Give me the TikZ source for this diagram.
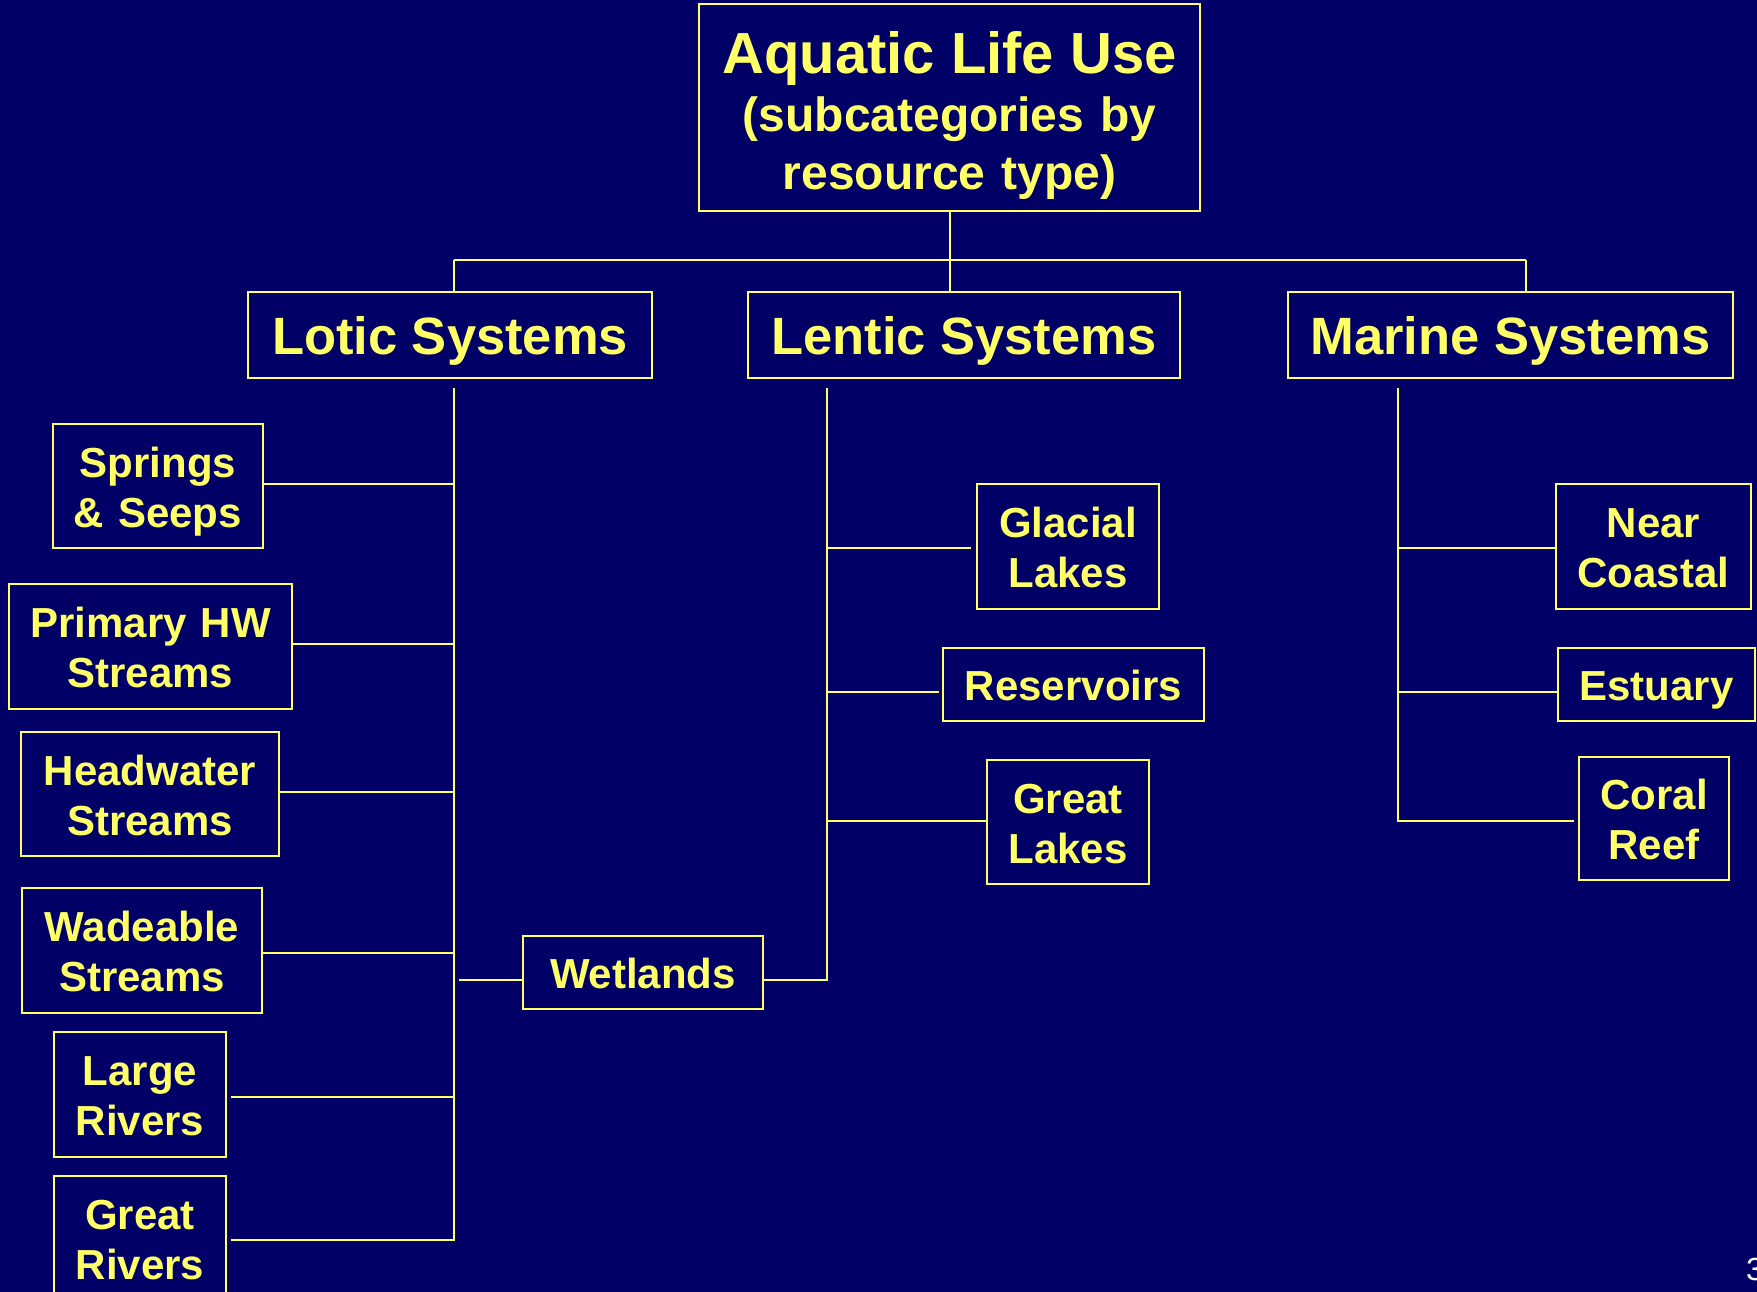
\documentclass[tikz,border=0pt]{standalone}
\usepackage{fontspec}
\setmainfont{Liberation Sans}
\definecolor{bgnavy}{RGB}{0,0,102}
\definecolor{ylw}{RGB}{255,255,102}
\begin{document}
\begin{tikzpicture}[x=1pt,y=-1pt,
  box/.style={draw=ylw, line width=2pt, text=ylw, inner sep=0pt, align=center},
  sysbox/.style={box, font=\bfseries\fontsize{52.5}{60}\selectfont, text height=38.5pt, text depth=0pt, minimum height=86pt},
  leaftwo/.style={box, font=\bfseries\fontsize{42}{50}\selectfont, text height=32pt, text depth=50pt},
  leafone/.style={box, font=\bfseries\fontsize{42}{50}\selectfont, text height=32pt, text depth=0pt, minimum height=73pt},
  conn/.style={draw=ylw, line width=2pt}]
\useasboundingbox (0,0) rectangle (1757,1292);
\fill[bgnavy] (0,0) rectangle (1757,1292);

% title
\node[box, font=\bfseries\fontsize{48}{58}\selectfont, text width=501pt, minimum height=207pt,
      text height=47.5pt, text depth=116pt] (aquatic) at (949.5,107.5)
  {{\fontsize{58}{58}\selectfont Aquatic Life Use}\\(subcategories by\\resource type)};

% systems
\node[sysbox, minimum width=404pt] (lotic)  at (450,335)    {Lotic Systems};
\node[sysbox, minimum width=432pt] (lentic) at (964,335)    {Lentic Systems};
\node[sysbox, minimum width=445pt] (marine) at (1510.5,335) {Marine Systems};

% lotic children
\node[leaftwo, text width=210pt, minimum height=124pt] (springs)   at (158,486)    {Springs\\\& Seeps};
\node[leaftwo, text width=283pt, minimum height=125pt] (primary)   at (150.5,646.5){Primary HW\\Streams};
\node[leaftwo, text width=258pt, minimum height=124pt] (headwater) at (150,794)    {Headwater\\Streams};
\node[leaftwo, text width=240pt, minimum height=125pt] (wadeable)  at (142,950.5)  {Wadeable\\Streams};
\node[leaftwo, text width=172pt, minimum height=125pt] (large)     at (140,1094.5) {Large\\Rivers};
\node[leaftwo, text width=172pt, minimum height=125pt] (greatriv)  at (140,1238.5) {Great\\Rivers};

% wetlands
\node[leafone, minimum width=240pt] (wetlands) at (643,972.5) {Wetlands};

% lentic children
\node[leaftwo, text width=182pt, minimum height=125pt] (glacial)   at (1068,546.5)  {Glacial\\Lakes};
\node[leafone, minimum width=261pt] (reservoirs) at (1073.5,684.5) {Reservoirs};
\node[leaftwo, text width=162pt, minimum height=124pt] (greatlakes) at (1068,822)   {Great\\Lakes};

% marine children
\node[leaftwo, text width=195pt, minimum height=125pt] (nearcoast) at (1653.5,546.5) {Near\\Coastal};
\node[leafone, minimum width=197pt] (estuary) at (1656.5,684.5) {Estuary};
\node[leaftwo, text width=150pt, minimum height=123pt] (coral) at (1654,818.5) {Coral\\Reef};

% slide number (cut by the page edge, as in the reference)
\node[text=white, font=\fontsize{32}{32}\selectfont, anchor=base west, inner sep=0pt] (pagenum) at (1746,1280) {3};

% top tree
\coordinate (topbus) at (950,260);
\coordinate (busL) at (454,260);
\coordinate (busR) at (1526,260);
\draw[conn] (aquatic.south -| topbus) -- (topbus);
\draw[conn] (busL) -- (busR);
\draw[conn] (busL) -- (busL |- lotic.north);
\draw[conn] (topbus) -- (topbus |- lentic.north);
\draw[conn] (busR) -- (busR |- marine.north);

% lotic bus
\coordinate (lotTop) at (454,388);
\coordinate (lotBot) at (454,1240);
\coordinate (jSpr) at (454,484);
\coordinate (jPri) at (454,644);
\coordinate (jHead) at (454,792);
\coordinate (jWade) at (454,953);
\coordinate (jLarge) at (454,1097);
\draw[conn] (lotTop) -- (lotBot) -- ([xshift=4pt]greatriv.east |- lotBot);
\draw[conn] (springs.east |- jSpr) -- (jSpr);
\draw[conn] (primary.east |- jPri) -- (jPri);
\draw[conn] (headwater.east |- jHead) -- (jHead);
\draw[conn] (wadeable.east |- jWade) -- (jWade);
\draw[conn] ([xshift=4pt]large.east |- jLarge) -- (jLarge);

% wetlands
\coordinate (wetL) at (459,980);
\coordinate (lenTop) at (827,388);
\coordinate (lenBot) at (827,980);
\draw[conn] (wetL) -- (wetL -| wetlands.west);
\draw[conn] (wetlands.east |- lenBot) -- (lenBot) -- (lenTop);

% lentic children
\coordinate (jGla) at (827,548);
\coordinate (jRes) at (827,692);
\coordinate (jGL) at (827,821);
\draw[conn] (jGla) -- ([xshift=-5pt]glacial.west |- jGla);
\draw[conn] (jRes) -- ([xshift=-3pt]reservoirs.west |- jRes);
\draw[conn] (jGL) -- (greatlakes.west |- jGL);

% marine bus
\coordinate (marTop) at (1398,388);
\coordinate (marBot) at (1398,821);
\coordinate (jNear) at (1398,548);
\coordinate (jEst) at (1398,692);
\draw[conn] (marTop) -- (marBot) -- ([xshift=-4pt]coral.west |- marBot);
\draw[conn] (jNear) -- (nearcoast.west |- jNear);
\draw[conn] (jEst) -- (estuary.west |- jEst);
\end{tikzpicture}
\end{document}
